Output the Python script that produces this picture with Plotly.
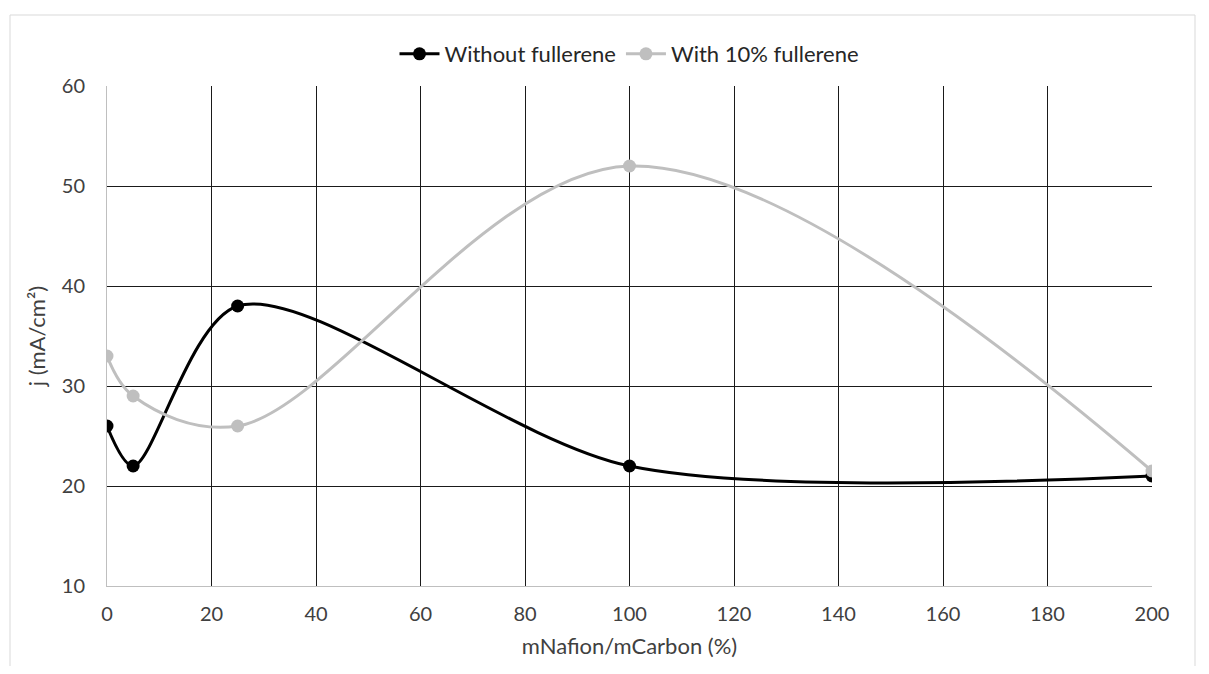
import plotly.graph_objects as go

x_vals = [0, 5, 25, 100, 200]
without_fullerene = [26, 22, 38, 22, 21]
with_fullerene = [33, 29, 26, 52, 21.5]
series_names = ["Without fullerene", "With 10% fullerene"]
x_title = "mNafion/mCarbon (%)"
y_title = "j (mA/cm²)"

FONT = "Lato"
FS = 20
FS_T = 22
fig = go.Figure()
fig.add_trace(go.Scatter(x=x_vals, y=without_fullerene, name=series_names[0],
                         mode="lines+markers", line=dict(color="#000000", width=3, shape="spline", smoothing=0.85),
                         marker=dict(size=13, color="#000000")))
fig.add_trace(go.Scatter(x=x_vals, y=with_fullerene, name=series_names[1],
                         mode="lines+markers", line=dict(color="#bfbfbf", width=3, shape="spline", smoothing=1.0),
                         marker=dict(size=13, color="#bfbfbf")))

# page body has an 8px margin; target plot area in window: x 107..1152, y 86..586
OFF = 8
W, H = 1209 - 2 * OFF, 674 - 2 * OFF
L = 107 - OFF
T = 86 - OFF
R = (OFF + W) - 1152
B = (OFF + H) - 586
pw, ph = W - L - R, H - T - B

fig.update_layout(
    width=W, height=H,
    margin=dict(l=L, r=R, t=T, b=B, autoexpand=False),
    paper_bgcolor="white", plot_bgcolor="white",
    font=dict(family=FONT, size=FS, color="#404040"),
    showlegend=True,
    legend=dict(orientation="h", x=0.5, xanchor="center", y=1 + (86 - 54) / ph, yanchor="middle",
                font=dict(family=FONT, size=FS_T, color="#262626"), itemwidth=40, tracegroupgap=0),
    xaxis=dict(range=[0, 200], dtick=20, tick0=0, showgrid=True, gridcolor="#1a1a1a", gridwidth=1,
               zeroline=False, showline=True, linecolor="#bfbfbf", linewidth=1, ticks="",
               tickfont=dict(family=FONT, size=FS, color="#404040"), ticklabelstandoff=10,
               title=dict(text=x_title, font=dict(family=FONT, size=FS_T, color="#404040"), standoff=14)),
    yaxis=dict(range=[10, 60], dtick=10, tick0=10, showgrid=True, gridcolor="#1a1a1a", gridwidth=1,
               zeroline=False, showline=True, linecolor="#bfbfbf", linewidth=1, ticks="",
               tickfont=dict(family=FONT, size=FS, color="#404040"), ticklabelstandoff=17,
               title=dict(text=y_title, font=dict(family=FONT, size=FS_T, color="#404040"), standoff=10)),
    shapes=[dict(type="rect", xref="paper", yref="paper",
                 x0=(10 - 107) / pw, x1=(1195 - 107) / pw,
                 y0=-0.3, y1=(586 - 15) / ph,
                 line=dict(color="#d9d9d9", width=1), fillcolor="rgba(0,0,0,0)", layer="below")],
)

fig.write_html("out.html")
